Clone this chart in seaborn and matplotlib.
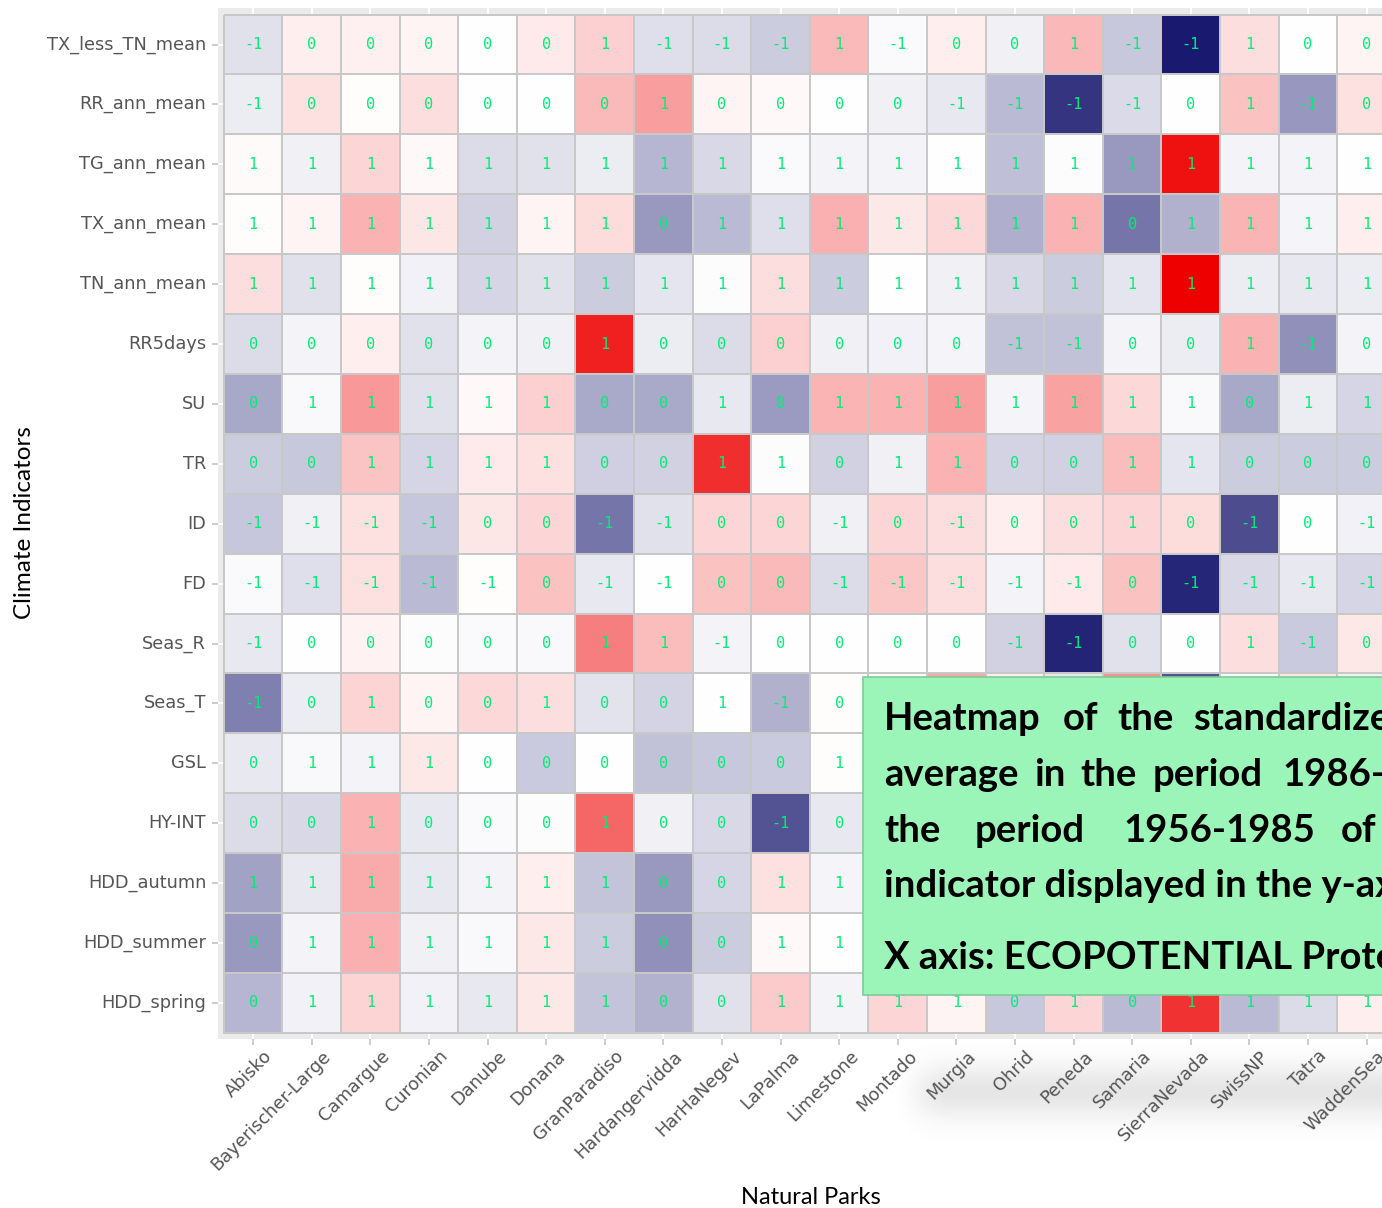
import numpy as np
import pandas as pd
import matplotlib
matplotlib.use("Agg")
import matplotlib.pyplot as plt
from matplotlib.colors import LinearSegmentedColormap
from matplotlib.patches import Rectangle
from matplotlib.transforms import ScaledTranslation
import seaborn as sns

# ---------------------------------------------------------------- data
indicators = ["TX_less_TN_mean", "RR_ann_mean", "TG_ann_mean", "TX_ann_mean",
              "TN_ann_mean", "RR5days", "SU", "TR", "ID", "FD", "Seas_R",
              "Seas_T", "GSL", "HY-INT", "HDD_autumn", "HDD_summer", "HDD_spring"]

parks = ["Abisko", "Bayerischer-Large", "Camargue", "Curonian", "Danube",
         "Donana", "GranParadiso", "Hardangervidda", "HarHaNegev", "LaPalma",
         "Limestone", "Montado", "Murgia", "Ohrid", "Peneda", "Samaria",
         "SierraNevada", "SwissNP", "Tatra", "WaddenSea"]

# rounded standardized anomaly (1986-2015 vs 1956-1985), printed in each cell
anomaly = [
    [-1, 0, 0, 0, 0, 0, 1, -1, -1, -1, 1, -1, 0, 0, 1, -1, -1, 1, 0, 0],
    [-1, 0, 0, 0, 0, 0, 0, 1, 0, 0, 0, 0, -1, -1, -1, -1, 0, 1, -1, 0],
    [1, 1, 1, 1, 1, 1, 1, 1, 1, 1, 1, 1, 1, 1, 1, 1, 1, 1, 1, 1],
    [1, 1, 1, 1, 1, 1, 1, 0, 1, 1, 1, 1, 1, 1, 1, 0, 1, 1, 1, 1],
    [1, 1, 1, 1, 1, 1, 1, 1, 1, 1, 1, 1, 1, 1, 1, 1, 1, 1, 1, 1],
    [0, 0, 0, 0, 0, 0, 1, 0, 0, 0, 0, 0, 0, -1, -1, 0, 0, 1, -1, 0],
    [0, 1, 1, 1, 1, 1, 0, 0, 1, 0, 1, 1, 1, 1, 1, 1, 1, 0, 1, 1],
    [0, 0, 1, 1, 1, 1, 0, 0, 1, 1, 0, 1, 1, 0, 0, 1, 1, 0, 0, 0],
    [-1, -1, -1, -1, 0, 0, -1, -1, 0, 0, -1, 0, -1, 0, 0, 1, 0, -1, 0, -1],
    [-1, -1, -1, -1, -1, 0, -1, -1, 0, 0, -1, -1, -1, -1, -1, 0, -1, -1, -1, -1],
    [-1, 0, 0, 0, 0, 0, 1, 1, -1, 0, 0, 0, 0, -1, -1, 0, 0, 1, -1, 0],
    [-1, 0, 1, 0, 0, 1, 0, 0, 1, -1, 0, 0, 1, 0, 0, 1, -1, 0, 0, 0],
    [0, 1, 1, 1, 0, 0, 0, 0, 0, 0, 1, 1, 1, 0, 1, 0, 1, 1, 1, 1],
    [0, 0, 1, 0, 0, 0, 1, 0, 0, -1, 0, 0, 0, 0, 0, 0, 1, 0, 0, 0],
    [1, 1, 1, 1, 1, 1, 1, 0, 0, 1, 1, 1, 1, 0, 1, 0, 1, 1, 1, 1],
    [0, 1, 1, 1, 1, 1, 1, 0, 0, 1, 1, 1, 1, 0, 1, 0, 1, 1, 1, 1],
    [0, 1, 1, 1, 1, 1, 1, 0, 0, 1, 1, 1, 1, 0, 1, 0, 1, 1, 1, 1],
]

# per-indicator scaled score across parks, used for the fill colour
scaled = [
    [-0.13, 0.07, 0.06, 0.04, 0.00, 0.08, 0.18, -0.14, -0.15, -0.22, 0.27, -0.02, 0.07, -0.07, 0.28, -0.24, -1.00, 0.13, 0.00, 0.04],
    [-0.08, 0.12, 0.01, 0.13, 0.00, 0.00, 0.27, 0.38, 0.04, 0.03, 0.00, -0.07, -0.10, -0.30, -0.88, -0.16, 0.00, 0.24, -0.45, 0.12],
    [0.02, -0.07, 0.16, 0.03, -0.15, -0.13, -0.08, -0.32, -0.17, -0.02, -0.05, -0.05, 0.00, -0.28, -0.01, -0.44, 0.93, -0.05, -0.05, 0.00],
    [0.01, 0.04, 0.30, 0.10, -0.20, 0.04, 0.14, -0.44, -0.30, -0.14, 0.31, 0.09, 0.15, -0.35, 0.30, -0.60, -0.34, 0.29, -0.04, 0.07],
    [0.13, -0.13, 0.01, -0.06, -0.18, -0.13, -0.22, -0.11, -0.01, 0.13, -0.22, 0.00, -0.07, -0.17, -0.22, -0.11, 1.00, -0.08, -0.10, -0.08],
    [-0.15, -0.05, 0.07, -0.13, -0.05, -0.07, 0.87, -0.08, -0.15, 0.18, -0.07, -0.06, -0.04, -0.27, -0.27, -0.05, -0.08, 0.30, -0.48, -0.05],
    [-0.38, -0.03, 0.40, -0.13, 0.03, 0.18, -0.37, -0.37, -0.10, -0.43, 0.29, 0.30, 0.38, -0.04, 0.36, 0.15, -0.03, -0.38, -0.08, -0.18],
    [-0.22, -0.24, 0.23, -0.18, 0.08, 0.12, -0.21, -0.20, 0.82, -0.01, -0.20, -0.07, 0.30, -0.19, -0.20, 0.26, -0.11, -0.22, -0.22, -0.22],
    [-0.25, -0.07, 0.12, -0.25, 0.10, 0.16, -0.60, -0.13, 0.16, 0.16, -0.07, 0.16, 0.13, 0.07, 0.13, 0.16, 0.14, -0.78, 0.00, -0.06],
    [-0.02, -0.14, 0.12, -0.30, 0.01, 0.24, -0.10, 0.00, 0.24, 0.27, -0.15, 0.22, 0.13, -0.05, 0.08, 0.24, -0.94, -0.17, -0.10, -0.18],
    [-0.10, 0.00, 0.05, -0.01, -0.02, -0.03, 0.50, 0.26, -0.05, 0.00, 0.00, 0.00, 0.00, -0.20, -0.95, -0.13, 0.00, 0.13, -0.23, 0.09],
    [-0.55, -0.08, 0.17, 0.04, 0.15, 0.13, -0.12, -0.19, 0.00, -0.34, 0.01, 0.02, 0.34, 0.07, -0.10, 0.43, -0.75, 0.00, 0.10, -0.06],
    [-0.10, -0.03, -0.05, 0.09, 0.00, -0.23, 0.00, -0.27, -0.24, -0.23, 0.01, 0.05, 0.08, -0.15, 0.10, -0.20, 0.30, -0.10, -0.10, 0.05],
    [-0.15, -0.17, 0.30, -0.10, -0.02, -0.01, 0.60, -0.07, -0.17, -0.75, -0.10, 0.05, 0.05, -0.10, 0.10, -0.15, 0.20, -0.10, -0.05, 0.00],
    [-0.40, -0.10, 0.33, -0.10, -0.05, 0.07, -0.26, -0.44, -0.18, 0.12, -0.04, 0.15, 0.05, -0.25, 0.15, -0.30, 0.75, -0.30, -0.15, 0.05],
    [-0.44, -0.05, 0.31, -0.07, -0.03, 0.09, -0.22, -0.48, -0.22, 0.03, 0.00, 0.15, 0.05, -0.25, 0.15, -0.30, 0.75, -0.30, -0.15, 0.05],
    [-0.32, -0.06, 0.17, -0.06, -0.10, 0.09, -0.26, -0.33, -0.13, 0.21, -0.05, 0.16, 0.04, -0.24, 0.16, -0.30, 0.80, -0.30, -0.15, 0.07],
]

note_lines = [
    ["Heatmap", "of", "the", "standardized"],
    ["average", "in", "the", "period", "1986-2015"],
    ["the", "period", "1956-1985", "of"],
    ["indicator displayed in the y-axis"],
    ["X axis: ECOPOTENTIAL Protected Areas"],
]

# ---------------------------------------------------------------- figure
W, H = 1382, 1208
fig = plt.figure(figsize=(W / 100, H / 100), dpi=100)
fig.patch.set_facecolor("white")

def fx(px):
    return px / W

def fy(py):
    return 1 - py / H

n_rows, n_cols = len(indicators), len(parks)
cell_w, cell_h = 58.6, 59.9
pad_x, pad_y = 0.1, 0.11
left_px, top_px = 218, 8
ax_w = cell_w * (n_cols + 2 * pad_x)
ax_h = cell_h * (n_rows + 2 * pad_y)
ax = fig.add_axes([fx(left_px), fy(top_px + ax_h), ax_w / W, ax_h / H])

fill_df = pd.DataFrame(scaled, index=indicators, columns=parks)
label_df = pd.DataFrame(anomaly, index=indicators, columns=parks)

cmap = LinearSegmentedColormap.from_list("navy_white_red",
                                         ["#191970", "#FFFFFF", "#EE0000"])

sns.heatmap(fill_df, annot=label_df, fmt="d", cmap=cmap, vmin=-1, vmax=1,
            cbar=False, linewidths=1.3, linecolor="#C8C8C8", square=False,
            annot_kws=dict(color="#00EE76", fontsize=11,
                           family="DejaVu Sans Mono"),
            ax=ax)

ax.set_aspect("auto")
ax.set_facecolor("#EBEBEB")
ax.set_xlim(-pad_x, n_cols + pad_x)
ax.set_ylim(n_rows + pad_y, -pad_y)
ax.grid(True, color="white", linewidth=1.4)
ax.set_axisbelow(True)
for s in ax.spines.values():
    s.set_visible(False)

tick_font = dict(family="DejaVu Sans", size=12.8, color="#555555")
ax.tick_params(axis="both", length=4.5, width=1.2, color="#C4C4C4")
ax.tick_params(axis="y", pad=4)
ax.tick_params(axis="x", pad=1)
ax.set_yticklabels(indicators, rotation=0, fontdict=tick_font)
ax.set_xticklabels(parks, rotation=45, ha="right", va="top",
                   rotation_mode="anchor", fontdict=tick_font)
shift = ScaledTranslation(10 / 100, 0, fig.dpi_scale_trans)
for lab in ax.get_xticklabels():
    lab.set_transform(lab.get_transform() + shift)

ax.set_xlabel("Natural Parks", fontsize=17, family="Lato", color="black")
ax.set_ylabel("Climate Indicators", fontsize=17.5, family="Lato", color="black")
ax.xaxis.set_label_coords((811 - left_px) / ax_w, -(1197 - top_px - ax_h) / ax_h)
ax.xaxis.label.set_va("center")
ax.yaxis.set_label_coords((25 - left_px) / ax_w, (top_px + ax_h - 523) / ax_h)
ax.yaxis.label.set_va("center")
ax.yaxis.label.set_ha("center")

# soft shadow band under the right-hand park labels
sh_x0, sh_x1, sh_y0, sh_y1 = 860, 1382, 1040, 1155
gx = np.arange(sh_x0, sh_x1) + 0.5
gy = np.arange(sh_y0, sh_y1) + 0.5
ramp = np.clip((gx - 890) / 60, 0, 1)
ramp = ramp * ramp * (3 - 2 * ramp)
band = np.exp(-((gy - 1092) / 27) ** 2)
alpha = 0.15 * band[:, None] * ramp[None, :]
rgba = np.zeros((len(gy), len(gx), 4))
rgba[..., :3] = 0.35
rgba[..., 3] = alpha
sax = fig.add_axes([fx(sh_x0), fy(sh_y1), (sh_x1 - sh_x0) / W, (sh_y1 - sh_y0) / H],
                   zorder=-1)
sax.imshow(rgba, aspect="auto", interpolation="bilinear")
sax.axis("off")

# green note box over the lower-right part of the matrix
box_x0, box_y0, box_y1 = 863, 677, 995
box = Rectangle((fx(box_x0), fy(box_y1)), fx(1382 + 40) - fx(box_x0),
                (box_y1 - box_y0) / H,
                transform=fig.transFigure, facecolor="#9BF5B9",
                edgecolor="#7FCB98", linewidth=1.2, zorder=5)
fig.patches.append(box)

# cell labels lying underneath the note box are not drawn
fig.canvas.draw()
for t in ax.texts:
    px, py = ax.transData.transform(t.get_position())
    py = H - py
    if px > box_x0 and box_y0 < py < box_y1:
        t.set_visible(False)

word_x = [
    [884, 1063, 1117, 1193],
    [884, 1034, 1080, 1153, 1282],
    [884, 975, 1123, 1341],
    [884],
    [884],
]
baselines = [730, 786, 842, 897, 969]
for words, xs, yb in zip(note_lines, word_x, baselines):
    for w, x in zip(words, xs):
        fig.text(fx(x), fy(yb), w, fontsize=27.5, family="Lato",
                 fontweight="bold", color="black", ha="left", va="baseline",
                 zorder=6)

fig.savefig("out.png", dpi=100)
